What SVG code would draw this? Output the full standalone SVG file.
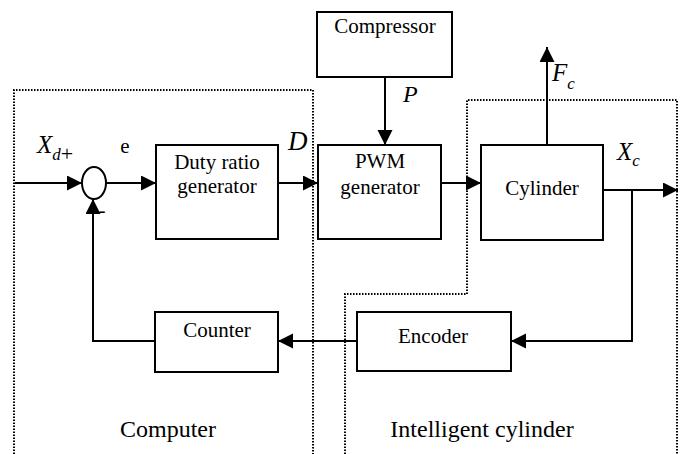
<svg xmlns="http://www.w3.org/2000/svg" width="684" height="454" viewBox="0 0 684 454">
<defs>
<marker id="ah" markerUnits="userSpaceOnUse" markerWidth="16" markerHeight="16" refX="15" refY="7.5" orient="auto">
<path d="M0,0 L15,7.5 L0,15 z" fill="#000"/>
</marker>
<style>
.box{fill:#fff;stroke:#000;stroke-width:2}
.ln{fill:none;stroke:#000;stroke-width:2}
.arr{fill:none;stroke:#000;stroke-width:2;marker-end:url(#ah)}
.dot{fill:none;stroke:#000;stroke-width:2;stroke-dasharray:1.5 1.5}
.t{font-family:"Liberation Serif","Times New Roman",serif;font-size:21px;fill:#000;text-anchor:middle}
.big{font-family:"Liberation Serif","Times New Roman",serif;font-size:24px;fill:#000;text-anchor:middle}
.it{font-family:"Liberation Serif","Times New Roman",serif;font-style:italic;font-size:25px;fill:#000}
.sub{font-size:17px}
</style>
</defs>
<rect width="684" height="454" fill="#fff"/>
<g id="regions">
<path class="dot" d="M14,454 V90 H313 V454"/>
<path class="dot" d="M345,454 V294 H467 V100 H677 V454"/>
</g>
<g id="connectors">
<line class="arr" x1="15" y1="183" x2="82" y2="183"/>
<line class="arr" x1="106" y1="183" x2="156" y2="183"/>
<line class="arr" x1="278" y1="183" x2="318" y2="183"/>
<line class="arr" x1="441" y1="183" x2="481" y2="183"/>
<line class="arr" x1="385" y1="77" x2="385" y2="145"/>
<line class="arr" x1="547" y1="145" x2="547" y2="47"/>
<line class="arr" x1="603" y1="190" x2="678" y2="190"/>
<polyline class="arr" points="632,190 632,341 511,341"/>
<line class="arr" x1="357" y1="341" x2="278" y2="341"/>
<polyline class="arr" points="155,341 93,341 93,199"/>
</g>
<g id="sum">
<ellipse cx="94" cy="183" rx="12" ry="16" fill="#fff" stroke="#000" stroke-width="2"/>
</g>
<g id="duty">
<rect class="box" x="156" y="145" width="122" height="94"/>
<text class="t" x="217" y="169">Duty ratio</text>
<text class="t" x="217" y="193">generator</text>
</g>
<g id="pwm">
<rect class="box" x="318" y="145" width="123" height="94"/>
<text class="t" x="380" y="168">PWM</text>
<text class="t" x="380" y="194">generator</text>
</g>
<g id="compressor">
<rect class="box" x="317" y="12" width="135" height="65"/>
<text class="t" x="385" y="33">Compressor</text>
</g>
<g id="cylinder">
<rect class="box" x="481" y="145" width="122" height="95"/>
<text class="t" x="542" y="195">Cylinder</text>
</g>
<g id="counter">
<rect class="box" x="155" y="312" width="123" height="60"/>
<text class="t" x="217" y="337">Counter</text>
</g>
<g id="encoder">
<rect class="box" x="357" y="312" width="154" height="59"/>
<text class="t" x="433" y="343">Encoder</text>
</g>
<g id="labels">
<text class="it" x="37" y="153">X<tspan class="sub" dy="7">d</tspan></text>
<text class="t" x="67" y="161" style="font-size:22px">+</text>
<text class="t" x="102" y="217">-</text>
<text class="t" x="125" y="153">e</text>
<text class="it" x="288" y="150" style="font-size:27px">D</text>
<text class="it" x="403" y="102" style="font-size:24px">P</text>
<text class="it" x="552" y="81">F<tspan class="sub" dy="8">c</tspan></text>
<text class="it" x="617" y="160">X<tspan class="sub" dy="6">c</tspan></text>
<text class="big" x="168" y="437">Computer</text>
<text class="big" x="482" y="437">Intelligent cylinder</text>
</g>
</svg>
